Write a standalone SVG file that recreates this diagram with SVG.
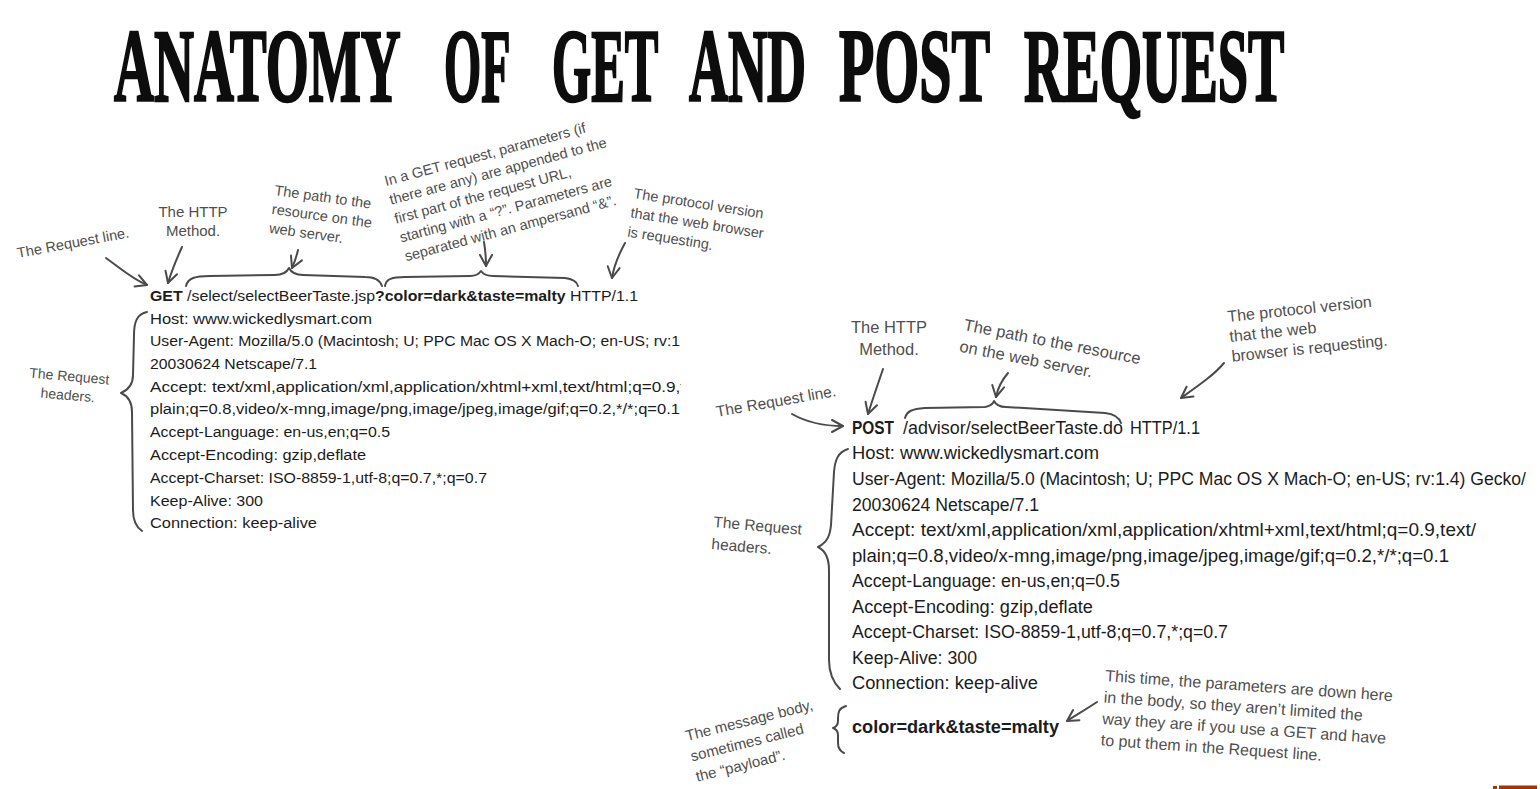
<svg xmlns="http://www.w3.org/2000/svg" width="1540" height="789" viewBox="0 0 1540 789">
<style>
.t{font-family:"Liberation Sans",Arial,sans-serif;fill:#1c1c1c}
.l{font-size:15.5px}
.r{font-size:17.5px}
.b{font-weight:bold}
.ttl{font-family:"Liberation Serif","Times New Roman",serif;font-weight:bold;font-size:104px;fill:#0d0d0d;stroke:#0d0d0d;stroke-width:2.6px}
.a{font-family:"Liberation Sans",Arial,sans-serif;fill:#4f4f4f}
.ln{fill:none;stroke:#4a4a4a;stroke-width:2;stroke-linecap:round;stroke-linejoin:round}
.ar{marker-end:url(#ah)}
</style>
<defs>
<marker id="ah" viewBox="-13 -8 15 16" markerWidth="15" markerHeight="16" refX="0" refY="0" orient="auto" markerUnits="userSpaceOnUse">
<path d="M-11,-6 L0,0 L-11,6" fill="none" stroke="#4a4a4a" stroke-width="2" stroke-linecap="round" stroke-linejoin="round"/>
</marker>
<clipPath id="cl"><rect x="0" y="280" width="681" height="260"/></clipPath>
</defs>
<rect width="1540" height="789" fill="#ffffff"/>

<g id="title">
<text class="ttl" transform="translate(114,101) scale(0.532,1)">ANATOMY</text>
<text class="ttl" transform="translate(444,101) scale(0.46,1)">OF</text>
<text class="ttl" transform="translate(552,101) scale(0.484,1)">GET</text>
<text class="ttl" transform="translate(689,101) scale(0.52,1)">AND</text>
<text class="ttl" transform="translate(839,101) scale(0.556,1)">POST</text>
<text class="ttl" transform="translate(1024,101) scale(0.524,1)">REQUEST</text>
</g>

<g id="get-request" clip-path="url(#cl)">
<text class="t l" x="150" y="300.5" textLength="488" lengthAdjust="spacingAndGlyphs"><tspan class="b">GET</tspan> /select/selectBeerTaste.jsp<tspan class="b">?color=dark&amp;taste=malty</tspan> HTTP/1.1</text>
<text class="t l" x="150" y="323.5" textLength="222" lengthAdjust="spacingAndGlyphs">Host: www.wickedlysmart.com</text>
<text class="t l" x="150" y="345.5" textLength="530" lengthAdjust="spacingAndGlyphs">User-Agent: Mozilla/5.0 (Macintosh; U; PPC Mac OS X Mach-O; en-US; rv:1</text>
<text class="t l" x="150" y="368.5" textLength="167" lengthAdjust="spacingAndGlyphs">20030624 Netscape/7.1</text>
<text class="t l" x="150" y="391.5" textLength="535" lengthAdjust="spacingAndGlyphs">Accept: text/xml,application/xml,application/xhtml+xml,text/html;q=0.9,t</text>
<text class="t l" x="150" y="413.5" textLength="530" lengthAdjust="spacingAndGlyphs">plain;q=0.8,video/x-mng,image/png,image/jpeg,image/gif;q=0.2,*/*;q=0.1</text>
<text class="t l" x="150" y="436.5" textLength="240" lengthAdjust="spacingAndGlyphs">Accept-Language: en-us,en;q=0.5</text>
<text class="t l" x="150" y="459.5" textLength="216" lengthAdjust="spacingAndGlyphs">Accept-Encoding: gzip,deflate</text>
<text class="t l" x="150" y="482.5" textLength="337" lengthAdjust="spacingAndGlyphs">Accept-Charset: ISO-8859-1,utf-8;q=0.7,*;q=0.7</text>
<text class="t l" x="150" y="505.5" textLength="113" lengthAdjust="spacingAndGlyphs">Keep-Alive: 300</text>
<text class="t l" x="150" y="527.5" textLength="167" lengthAdjust="spacingAndGlyphs">Connection: keep-alive</text>
</g>

<g id="post-request">
<text class="t r b" x="852" y="434" textLength="42" lengthAdjust="spacingAndGlyphs">POST</text>
<text class="t r" x="903" y="434" textLength="220" lengthAdjust="spacingAndGlyphs">/advisor/selectBeerTaste.do</text>
<text class="t r" x="1130" y="434" textLength="70" lengthAdjust="spacingAndGlyphs">HTTP/1.1</text>
<text class="t r" x="852" y="459" textLength="247" lengthAdjust="spacingAndGlyphs">Host: www.wickedlysmart.com</text>
<text class="t r" x="852" y="485" textLength="674" lengthAdjust="spacingAndGlyphs">User-Agent: Mozilla/5.0 (Macintosh; U; PPC Mac OS X Mach-O; en-US; rv:1.4) Gecko/</text>
<text class="t r" x="852" y="511" textLength="187" lengthAdjust="spacingAndGlyphs">20030624 Netscape/7.1</text>
<text class="t r" x="852" y="536" textLength="624" lengthAdjust="spacingAndGlyphs">Accept: text/xml,application/xml,application/xhtml+xml,text/html;q=0.9,text/</text>
<text class="t r" x="852" y="562" textLength="597" lengthAdjust="spacingAndGlyphs">plain;q=0.8,video/x-mng,image/png,image/jpeg,image/gif;q=0.2,*/*;q=0.1</text>
<text class="t r" x="852" y="587" textLength="268" lengthAdjust="spacingAndGlyphs">Accept-Language: en-us,en;q=0.5</text>
<text class="t r" x="852" y="613" textLength="241" lengthAdjust="spacingAndGlyphs">Accept-Encoding: gzip,deflate</text>
<text class="t r" x="852" y="638" textLength="376" lengthAdjust="spacingAndGlyphs">Accept-Charset: ISO-8859-1,utf-8;q=0.7,*;q=0.7</text>
<text class="t r" x="852" y="664" textLength="125" lengthAdjust="spacingAndGlyphs">Keep-Alive: 300</text>
<text class="t r" x="852" y="689" textLength="186" lengthAdjust="spacingAndGlyphs">Connection: keep-alive</text>
<text class="t r b" x="852" y="733" textLength="207" lengthAdjust="spacingAndGlyphs">color=dark&amp;taste=malty</text>
</g>

<g id="note-get-request-line">
<text class="a" font-size="14.5" transform="translate(18,258) rotate(-10.5)">The Request line.</text>
</g>
<g id="note-get-method">
<text class="a" font-size="15" text-anchor="middle" x="193" y="217">The HTTP</text>
<text class="a" font-size="15" text-anchor="middle" x="193" y="236">Method.</text>
</g>
<g id="note-get-path">
<text class="a" font-size="14.5" transform="translate(274,195) rotate(8)"><tspan x="0" y="0">The path to the</tspan><tspan x="0" y="19">resource on the</tspan><tspan x="0" y="38">web server.</tspan></text>
</g>
<g id="note-get-params">
<text class="a" font-size="14.5" transform="translate(386,186) rotate(-15)"><tspan x="0" y="0">In a GET request, parameters (if</tspan><tspan x="0" y="19.5">there are any) are appended to the</tspan><tspan x="0" y="39">first part of the request URL,</tspan><tspan x="0" y="58.5">starting with a “?”. Parameters are</tspan><tspan x="0" y="78">separated with an ampersand “&amp;”.</tspan></text>
</g>
<g id="note-get-protocol">
<text class="a" font-size="14.5" transform="translate(633,198) rotate(9)"><tspan x="0" y="0">The protocol version</tspan><tspan x="0" y="19.5">that the web browser</tspan><tspan x="0" y="39">is requesting.</tspan></text>
</g>
<g id="note-get-headers">
<text class="a" font-size="14" text-anchor="middle" transform="translate(69,381) rotate(5)"><tspan x="0" y="0">The Request</tspan><tspan x="0" y="19">headers.</tspan></text>
</g>

<g id="note-post-method">
<text class="a" font-size="16.5" text-anchor="middle" x="889" y="333">The HTTP</text>
<text class="a" font-size="16.5" text-anchor="middle" x="889" y="355">Method.</text>
</g>
<g id="note-post-path">
<text class="a" font-size="16.5" transform="translate(963,330) rotate(11)"><tspan x="0" y="0">The path to the resource</tspan><tspan x="0" y="22">on the web server.</tspan></text>
</g>
<g id="note-post-protocol">
<text class="a" font-size="16" transform="translate(1228,322) rotate(-6)"><tspan x="0" y="0">The protocol version</tspan><tspan x="0" y="20">that the web</tspan><tspan x="0" y="40">browser is requesting.</tspan></text>
</g>
<g id="note-post-request-line">
<text class="a" font-size="15.5" transform="translate(717,417) rotate(-10)">The Request line.</text>
</g>
<g id="note-post-headers">
<text class="a" font-size="15.5" transform="translate(713,527) rotate(5)"><tspan x="0" y="0">The Request</tspan><tspan x="0" y="22">headers.</tspan></text>
</g>
<g id="note-post-body">
<text class="a" font-size="15" transform="translate(687,741) rotate(-14)"><tspan x="0" y="0">The message body,</tspan><tspan x="0" y="21">sometimes called</tspan><tspan x="0" y="42">the “payload”.</tspan></text>
</g>
<g id="note-post-params">
<text class="a" font-size="16" transform="translate(1105,681) rotate(4)"><tspan x="0" y="0">This time, the parameters are down here</tspan><tspan x="0" y="21.5">in the body, so they aren’t limited the</tspan><tspan x="0" y="43">way they are if you use a GET and have</tspan><tspan x="0" y="64.5">to put them in the Request line.</tspan></text>
</g>

<g id="connectors">
<path class="ln ar" d="M106,258 C120,268 132,279 147,285"/>
<path class="ln ar" d="M182,247 C177,258 172,270 168,283"/>
<path class="ln ar" d="M298,250 Q296,259 292,268"/>
<path class="ln ar" d="M484,242 Q486,254 486,266"/>
<path class="ln ar" d="M625,243 C619,254 614,265 612,278"/>
<path class="ln" d="M186,286 C188,278 195,276 210,276 L275,275 C283,275 287,272 289,268 C291,272 295,275 303,275 L365,277 C375,277 380,280 382,286"/>
<path class="ln" d="M385,286 C386,279 392,277 405,277 L470,276 C476,276 479,274 481,271 C483,274 486,276 493,276 L565,278 C573,279 577,282 578,286"/>
<path class="ln" d="M147,312 C137,314 134,322 134,335 L133,375 C133,385 128,390 121,393 C128,396 132,402 132,412 L133,510 C133,520 136,527 142,531"/>

<path class="ln ar" d="M883,369 C878,384 873,398 868,414"/>
<path class="ln ar" d="M1008,373 C1002,380 998,387 996,397"/>
<path class="ln ar" d="M792,414 C806,422 822,426 843,426"/>
<path class="ln ar" d="M1224,363 C1214,375 1198,386 1181,398"/>
<path class="ln" d="M905,418 C907,411 912,409 925,408 L985,407 C990,406 993,404 994,401 C996,405 999,407 1006,407 L1105,413 C1114,414 1119,417 1121,423"/>
<path class="ln" d="M848,449 C838,452 835,460 834,472 L831,525 C830,537 826,543 818,547 C826,551 829,558 829,570 L829,660 C829,673 833,682 840,689"/>
<path class="ln" d="M846,706 C839,708 838,712 838,718 L838,721 C838,725 836,727 833,728 C836,729 838,731 838,735 L838,743 C838,748 840,751 844,753"/>
<path class="ln ar" d="M1097,702 C1088,708 1078,714 1067,721"/>
</g>

<g id="corner-mark">
<rect x="1493" y="786" width="4" height="3" fill="#a63300"/>
<rect x="1499" y="785.5" width="38" height="3.5" fill="#a63300"/>
</g>
</svg>
